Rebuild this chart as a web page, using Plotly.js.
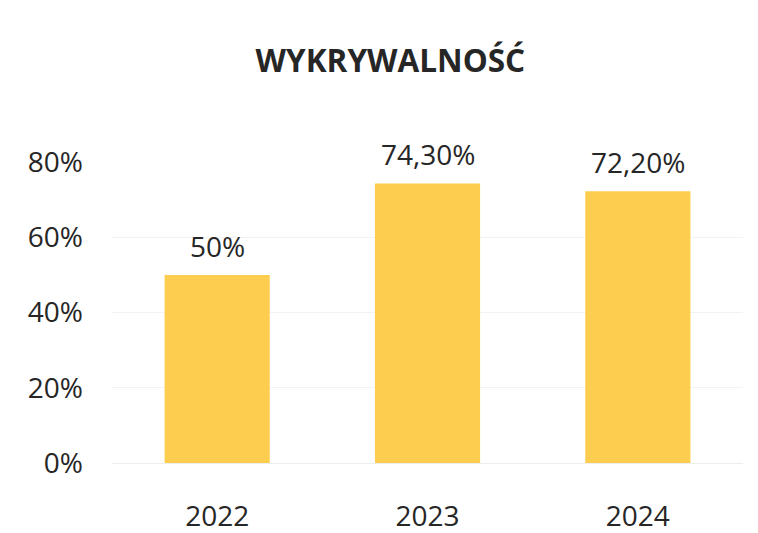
<!DOCTYPE html>
<html>
<head>
<meta charset="utf-8">
<script src="https://cdn.plot.ly/plotly-3.0.1.min.js"></script>
<style>html,body{margin:0;padding:0;background:#fff;}#chart{width:758px;height:533px;}</style>
</head>
<body>
<div id="chart"></div>
<script>
const categories = ["2022", "2023", "2024"];
const values = [0.50, 0.743, 0.722];
const valueLabels = ["50%", "74,30%", "72,20%"];
const yTickVals = [0, 0.2, 0.4, 0.6, 0.8];
const yTickText = ["0%", "20%", "40%", "60%", "80%"];

const FONT = "Open Sans, Noto Sans, sans-serif";
const TXT = "#262626";
const trace = {
  type: "bar",
  x: categories,
  y: values,
  marker: {color: "#FDCD50"},
  width: 0.5,
  hoverinfo: "none"
};
// category axis: annotation x given as category index
const annotations = categories.map((c, i) => ({
  x: i, y: values[i], xref: "x", yref: "y",
  text: valueLabels[i], showarrow: false,
  xanchor: "center", yanchor: "middle", yshift: 29,
  font: {family: FONT, size: 28, color: TXT}
}));
const layout = {
  width: 758, height: 533,
  margin: {l: 112, r: 15, t: 162, b: 70},
  paper_bgcolor: "#fff", plot_bgcolor: "#fff",
  showlegend: false,
  title: {text: "<b>WYKRYWALNOŚĆ</b>", font: {family: FONT, size: 31.5, color: TXT}, x: 0.515, xanchor: "center", y: 0.885, yanchor: "middle"},
  xaxis: {type: "category", range: [-0.5, 2.5], showgrid: false, zeroline: false, showline: false, ticks: "",
          tickfont: {family: FONT, size: 28, color: TXT}, ticklabelstandoff: 34},
  yaxis: {range: [0, 0.8], tickvals: yTickVals, ticktext: yTickText, showgrid: true, gridcolor: "#F2F2F2", gridwidth: 1,
          zeroline: true, zerolinecolor: "#EDEDED", showline: false, ticks: "",
          tickfont: {family: FONT, size: 28, color: TXT}, ticklabelstandoff: 28},
  annotations: annotations
};
Plotly.newPlot("chart", [trace], layout, {displayModeBar: false, staticPlot: true});
</script>
</body>
</html>
